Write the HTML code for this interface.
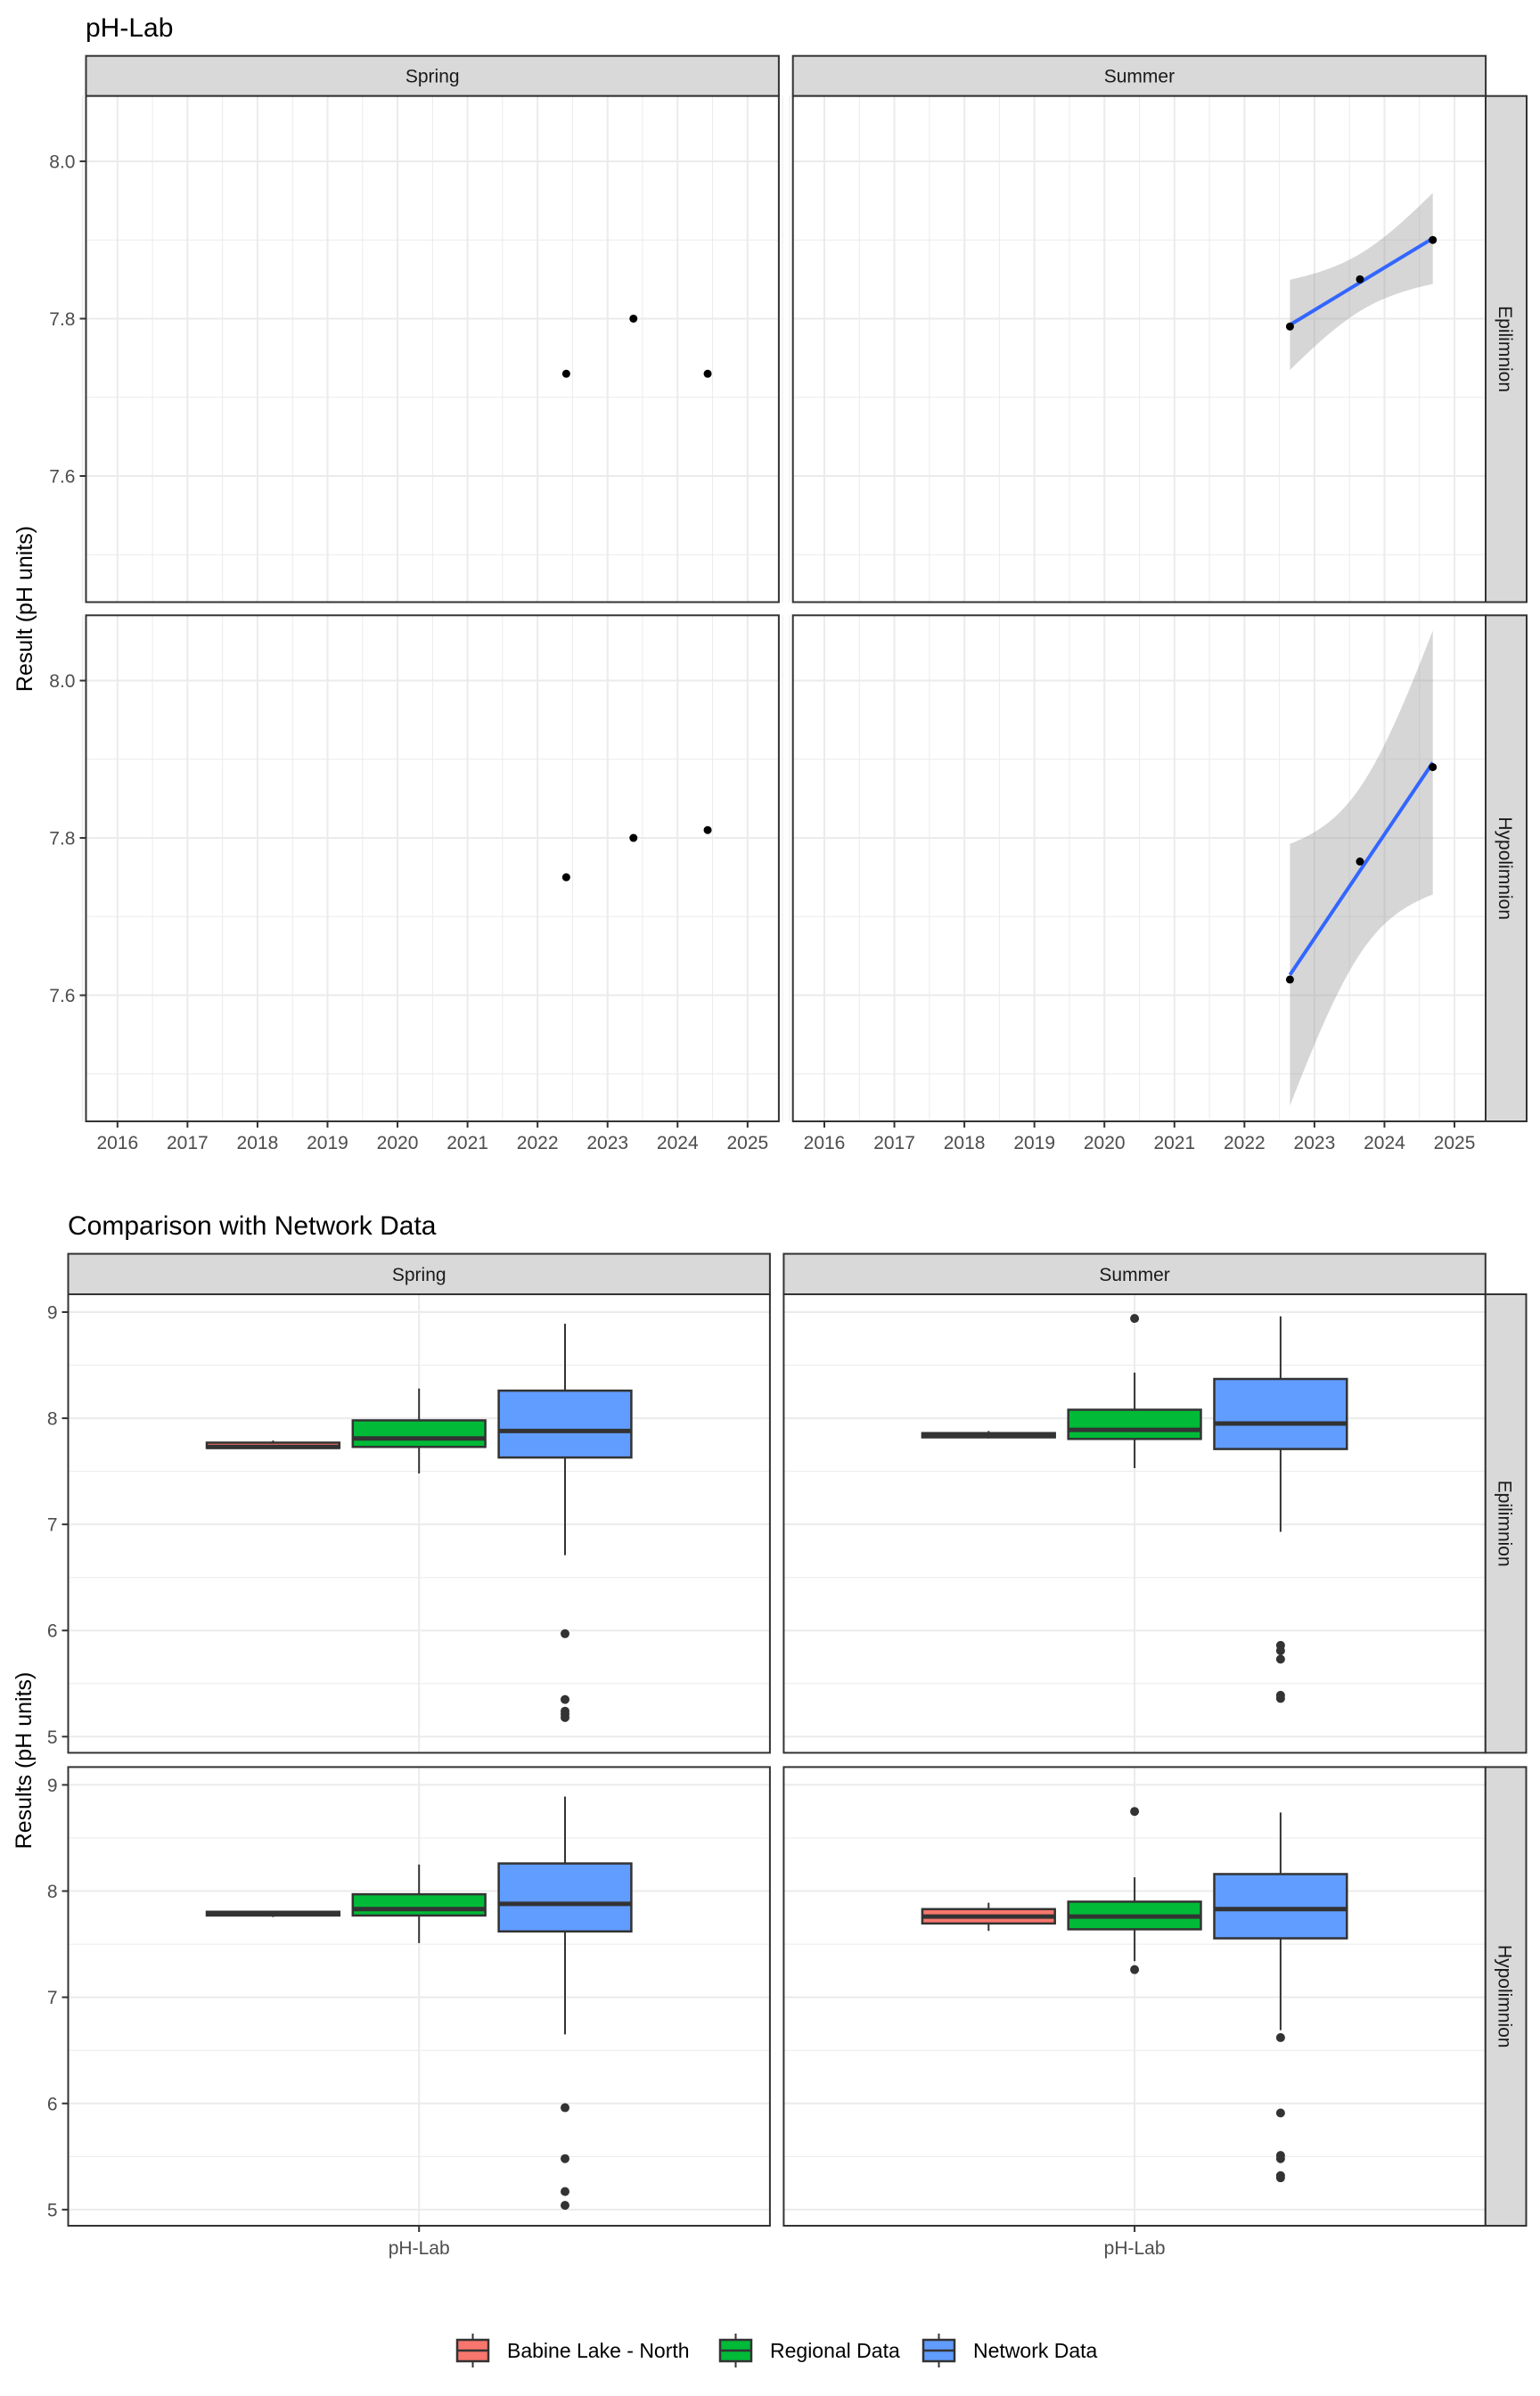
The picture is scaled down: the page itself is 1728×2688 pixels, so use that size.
<!DOCTYPE html>
<html>
<head>
<meta charset="utf-8">
<style>
html,body{margin:0;padding:0;background:#fff;}
svg{display:block;font-family:"Liberation Sans",Arial,sans-serif;}
</style>
</head>
<body>
<svg id="chart" width="1728" height="2688" viewBox="0 0 1728 2688" xmlns="http://www.w3.org/2000/svg">
  <rect x="0" y="0" width="1728" height="2688" fill="#fff"/>
  <text x="96" y="41" font-size="30" fill="#000">pH-Lab</text>
  <text x="76" y="1385" font-size="30" fill="#000">Comparison with Network Data</text>
  <text transform="translate(36,683) rotate(-90)" text-anchor="middle" font-size="25" fill="#000">Result (pH units)</text>
  <text transform="translate(35,1975) rotate(-90)" text-anchor="middle" font-size="25" fill="#000">Results (pH units)</text>
  <g id="layer"></g>
</svg>
<script>
// ---- Top chart data ----
const springYears = [2022.41, 2023.37, 2024.43];
const springEpiVals = [7.73, 7.80, 7.73];
const springHypoVals = [7.75, 7.80, 7.81];
const summerYears = [2022.65, 2023.65, 2024.69];
const summerEpiVals = [7.79, 7.85, 7.90];
const summerHypoVals = [7.62, 7.77, 7.89];
const yearTicks = [2016, 2017, 2018, 2019, 2020, 2021, 2022, 2023, 2024, 2025];
const topYTicks = [7.6, 7.8, 8.0];
const topYMinor = [7.5, 7.7, 7.9];

// ---- Bottom chart data ----  each: [lowerWhisker, q1, median, q3, upperWhisker]
const groupNames = ["Babine Lake - North", "Regional Data", "Network Data"];
const springEpiBoxes = [[7.72, 7.72, 7.73, 7.77, 7.79], [7.48, 7.73, 7.81, 7.98, 8.28], [6.71, 7.63, 7.88, 8.26, 8.89]];
const springEpiOutliers = [[], [], [5.97, 5.35, 5.24, 5.21, 5.18]];
const summerEpiBoxes = [[7.81, 7.82, 7.84, 7.86, 7.88], [7.53, 7.805, 7.89, 8.08, 8.43], [6.93, 7.71, 7.95, 8.37, 8.96]];
const summerEpiOutliers = [[], [8.94], [5.86, 5.81, 5.73, 5.39, 5.36]];
const springHypoBoxes = [[7.755, 7.77, 7.79, 7.805, 7.81], [7.51, 7.77, 7.83, 7.97, 8.25], [6.65, 7.62, 7.88, 8.26, 8.89]];
const springHypoOutliers = [[], [], [5.96, 5.48, 5.17, 5.04]];
const summerHypoBoxes = [[7.625, 7.695, 7.76, 7.83, 7.89], [7.34, 7.64, 7.76, 7.90, 8.13], [6.69, 7.555, 7.83, 8.16, 8.74]];
const summerHypoOutliers = [[], [8.75, 7.26], [6.62, 5.91, 5.51, 5.48, 5.32, 5.30]];
const bottomYTicks = [5, 6, 7, 8, 9];
const bottomYMinor = [5.5, 6.5, 7.5, 8.5];
const fills = ["#F8766D", "#00BA38", "#619CFF"];

const NS = "http://www.w3.org/2000/svg";
const layer = document.getElementById("layer");
function mk(tag, attrs, parent) {
  const e = document.createElementNS(NS, tag);
  for (const k in attrs) e.setAttribute(k, attrs[k]);
  (parent || layer).appendChild(e);
  return e;
}

// ---- Top chart scales ----
const TOP_PANEL_W = 777.4;
const topCols = [96.5, 889.7];
const topRows = [[107.7, 675.5], [690.3, 1258]];
const T_YMAX = 8.083, T_YMIN = 7.4397;
function xTop(left, yr) { return left + 35.3 + (yr - 2016) * 78.56; }
function yTop(row, v) { const [t, b] = topRows[row]; return t + (T_YMAX - v) / (T_YMAX - T_YMIN) * (b - t); }

// ---- Bottom chart scales ----
const BOT_PANEL_W = 787.4;
const botCols = [76.5, 879.4];
const botRows = [[1452, 1966.4], [1982.4, 2497]];
const B_YMAX = 9.168, B_YMIN = 4.848;
function yBot(row, v) { const [t, b] = botRows[row]; return t + (B_YMAX - v) / (B_YMAX - B_YMIN) * (b - t); }
function xBot(left, gi) { return left + BOT_PANEL_W / 2 + (gi - 1) * 163.8; }

function strip(x, y, w, h, label, vertical) {
  const r = mk("rect", {x: x, y: y, width: w, height: h, fill: "#d9d9d9", stroke: "#333", "stroke-width": 2});
  
  
  let t;
  if (vertical) {
    t = mk("text", {transform: "translate(" + (x + w / 2 - 8) + "," + (y + h / 2) + ") rotate(90)", "text-anchor": "middle", "font-size": 21, fill: "#1a1a1a"});
  } else {
    t = mk("text", {x: x + w / 2, y: y + h / 2 + 7.5, "text-anchor": "middle", "font-size": 21, fill: "#1a1a1a"});
  }
  t.textContent = label;
  
  
}

// ===== TOP CHART =====
const topStripTop = 62.7;
["Spring", "Summer"].forEach((s, ci) => strip(topCols[ci], topStripTop, TOP_PANEL_W, topRows[0][0] - topStripTop, s, false));
const topSeries = [
  [springEpiVals, springHypoVals],
  [summerEpiVals, summerHypoVals]
];
const topYears = [springYears, summerYears];

for (let ci = 0; ci < 2; ci++) {
  for (let ri = 0; ri < 2; ri++) {
    const L = topCols[ci], [T, B] = topRows[ri];
    const g = mk("g", {});
    
    
    const bg = mk("rect", {x: L, y: T, width: TOP_PANEL_W, height: B - T, fill: "#fff"}, g);
    
    
    topYMinor.forEach(v => {
      const l = mk("line", {x1: L, x2: L + TOP_PANEL_W, y1: yTop(ri, v), y2: yTop(ri, v), stroke: "#ebebeb", "stroke-width": 1}, g);
      
      
    });
    yearTicks.forEach(yr => {
      const l = mk("line", {x1: xTop(L, yr + 0.5), x2: xTop(L, yr + 0.5), y1: T, y2: B, stroke: "#ebebeb", "stroke-width": 1}, g);
      
      
    });
    const l0 = mk("line", {x1: xTop(L, 2015.5), x2: xTop(L, 2015.5), y1: T, y2: B, stroke: "#ebebeb", "stroke-width": 1}, g);
    
    
    topYTicks.forEach(v => {
      const l = mk("line", {x1: L, x2: L + TOP_PANEL_W, y1: yTop(ri, v), y2: yTop(ri, v), stroke: "#ebebeb", "stroke-width": 2}, g);
      
      
    });
    yearTicks.forEach(yr => {
      const l = mk("line", {x1: xTop(L, yr), x2: xTop(L, yr), y1: T, y2: B, stroke: "#ebebeb", "stroke-width": 2}, g);
      
      
    });
    const xs = topYears[ci], vs = topSeries[ci][ri];
    if (ci === 1) {
      // linear fit with 95% CI (t, df=1)
      const n = xs.length;
      const mx = xs.reduce((a, b) => a + b, 0) / n, my = vs.reduce((a, b) => a + b, 0) / n;
      let sxx = 0, sxy = 0;
      for (let i = 0; i < n; i++) { sxx += (xs[i] - mx) ** 2; sxy += (xs[i] - mx) * (vs[i] - my); }
      const slope = sxy / sxx, icpt = my - slope * mx;
      let sse = 0;
      for (let i = 0; i < n; i++) sse += (vs[i] - (icpt + slope * xs[i])) ** 2;
      const s = Math.sqrt(sse / (n - 2)), tq = 12.706;
      const x0 = Math.min(...xs), x1 = Math.max(...xs);
      const up = [], lo = [];
      for (let k = 0; k <= 60; k++) {
        const xx = x0 + (x1 - x0) * k / 60;
        const fit = icpt + slope * xx;
        const se = s * Math.sqrt(1 / n + (xx - mx) ** 2 / sxx);
        up.push(xTop(L, xx).toFixed(2) + "," + yTop(ri, fit + tq * se).toFixed(2));
        lo.unshift(xTop(L, xx).toFixed(2) + "," + yTop(ri, fit - tq * se).toFixed(2));
      }
      const band = mk("polygon", {points: up.concat(lo).join(" "), fill: "#999999", "fill-opacity": 0.4}, g);
      
      
      const fl = mk("line", {x1: xTop(L, x0), y1: yTop(ri, icpt + slope * x0), x2: xTop(L, x1), y2: yTop(ri, icpt + slope * x1), stroke: "#3366FF", "stroke-width": 4}, g);
      
      
    }
    xs.forEach((yr, i) => {
      const c = mk("circle", {cx: xTop(L, yr), cy: yTop(ri, vs[i]), r: 4.5, fill: "#000"}, g);
      
      
    });
    const fr = mk("rect", {x: L, y: T, width: TOP_PANEL_W, height: B - T, fill: "none", stroke: "#333", "stroke-width": 2}, g);
    
    
    if (ci === 0) {
      topYTicks.forEach(v => {
        const tk = mk("line", {x1: L - 7, x2: L, y1: yTop(ri, v), y2: yTop(ri, v), stroke: "#333", "stroke-width": 2});
        
        
        const tl = mk("text", {x: L - 12, y: yTop(ri, v) + 7.5, "text-anchor": "end", "font-size": 21, fill: "#4d4d4d"});
        tl.textContent = v.toFixed(1);
        
        
      });
    }
    if (ri === 1) {
      yearTicks.forEach(yr => {
        const tk = mk("line", {x1: xTop(L, yr), x2: xTop(L, yr), y1: B, y2: B + 7, stroke: "#333", "stroke-width": 2});
        
        
        const tl = mk("text", {x: xTop(L, yr), y: B + 31, "text-anchor": "middle", "font-size": 21, fill: "#4d4d4d"});
        tl.textContent = String(yr);
        
        
      });
    }
  }
}
strip(1667, topRows[0][0], 46, topRows[0][1] - topRows[0][0], "Epilimnion", true);
strip(1667, topRows[1][0], 46, topRows[1][1] - topRows[1][0], "Hypolimnion", true);

// ===== BOTTOM CHART =====
const botStripTop = 1406.6;
["Spring", "Summer"].forEach((s, ci) => strip(botCols[ci], botStripTop, BOT_PANEL_W, botRows[0][0] - botStripTop, s, false));
const botBoxes = [[springEpiBoxes, springHypoBoxes], [summerEpiBoxes, summerHypoBoxes]];
const botOut = [[springEpiOutliers, springHypoOutliers], [summerEpiOutliers, summerHypoOutliers]];
const BOX_W = 148.8;
for (let ci = 0; ci < 2; ci++) {
  for (let ri = 0; ri < 2; ri++) {
    const L = botCols[ci], [T, B] = botRows[ri];
    const g = mk("g", {});
    
    
    const bg = mk("rect", {x: L, y: T, width: BOT_PANEL_W, height: B - T, fill: "#fff"}, g);
    
    
    bottomYMinor.forEach(v => {
      const l = mk("line", {x1: L, x2: L + BOT_PANEL_W, y1: yBot(ri, v), y2: yBot(ri, v), stroke: "#ebebeb", "stroke-width": 1}, g);
      
      
    });
    bottomYTicks.forEach(v => {
      const l = mk("line", {x1: L, x2: L + BOT_PANEL_W, y1: yBot(ri, v), y2: yBot(ri, v), stroke: "#ebebeb", "stroke-width": 2}, g);
      
      
    });
    const vx = mk("line", {x1: L + BOT_PANEL_W / 2, x2: L + BOT_PANEL_W / 2, y1: T, y2: B, stroke: "#ebebeb", "stroke-width": 2}, g);
    
    
    botBoxes[ci][ri].forEach((st, gi) => {
      const cx = xBot(L, gi);
      const [lw, q1, md, q3, uw] = st;
      const bx = mk("g", {}, g);
      
      
      const w1 = mk("line", {x1: cx, x2: cx, y1: yBot(ri, uw), y2: yBot(ri, q3), stroke: "#333", "stroke-width": 2}, bx);
      
      
      const w2 = mk("line", {x1: cx, x2: cx, y1: yBot(ri, q1), y2: yBot(ri, lw), stroke: "#333", "stroke-width": 2}, bx);
      
      
      const rc = mk("rect", {x: cx - BOX_W / 2, y: yBot(ri, q3), width: BOX_W, height: Math.max(yBot(ri, q1) - yBot(ri, q3), 0.5), fill: fills[gi], stroke: "#333", "stroke-width": 2.5}, bx);
      
      
      const ml = mk("line", {x1: cx - BOX_W / 2, x2: cx + BOX_W / 2, y1: yBot(ri, md), y2: yBot(ri, md), stroke: "#333", "stroke-width": 5}, bx);
      
      
      botOut[ci][ri][gi].forEach(v => {
        const c = mk("circle", {cx: cx, cy: yBot(ri, v), r: 5, fill: "#333"}, bx);
        
        
      });
    });
    const fr = mk("rect", {x: L, y: T, width: BOT_PANEL_W, height: B - T, fill: "none", stroke: "#333", "stroke-width": 2}, g);
    
    
    if (ci === 0) {
      bottomYTicks.forEach(v => {
        const tk = mk("line", {x1: L - 7, x2: L, y1: yBot(ri, v), y2: yBot(ri, v), stroke: "#333", "stroke-width": 2});
        
        
        const tl = mk("text", {x: L - 12, y: yBot(ri, v) + 7.5, "text-anchor": "end", "font-size": 21, fill: "#4d4d4d"});
        tl.textContent = String(v);
        
        
      });
    }
    if (ri === 1) {
      const tk = mk("line", {x1: L + BOT_PANEL_W / 2, x2: L + BOT_PANEL_W / 2, y1: B, y2: B + 7, stroke: "#333", "stroke-width": 2});
      
      
      const tl = mk("text", {x: L + BOT_PANEL_W / 2, y: B + 32, "text-anchor": "middle", "font-size": 21, fill: "#4d4d4d"});
      tl.textContent = "pH-Lab";
      
      
    }
  }
}
strip(1666.8, botRows[0][0], 45.7, botRows[0][1] - botRows[0][0], "Epilimnion", true);
strip(1666.8, botRows[1][0], 45.7, botRows[1][1] - botRows[1][0], "Hypolimnion", true);

// ===== LEGEND =====
const legendKeyX = [513, 808, 1036];
const legendTextX = [569, 864, 1092];
const LY = 2637;
groupNames.forEach((name, gi) => {
  const lg = mk("g", {});
  
  
  const kx = legendKeyX[gi] + 17.5;
  const wl = mk("line", {x1: kx, x2: kx, y1: LY - 19, y2: LY + 19, stroke: "#333", "stroke-width": 2}, lg);
  
  
  const kr = mk("rect", {x: legendKeyX[gi], y: LY - 12, width: 35, height: 24, fill: fills[gi], stroke: "#333", "stroke-width": 2.5}, lg);
  
  
  const km = mk("line", {x1: legendKeyX[gi], x2: legendKeyX[gi] + 35, y1: LY, y2: LY, stroke: "#333", "stroke-width": 2.5}, lg);
  
  
  const t = mk("text", {x: legendTextX[gi], y: LY + 8, "font-size": 23, fill: "#000"}, lg);
  t.textContent = name;
  
  
});
</script>
</body>
</html>
